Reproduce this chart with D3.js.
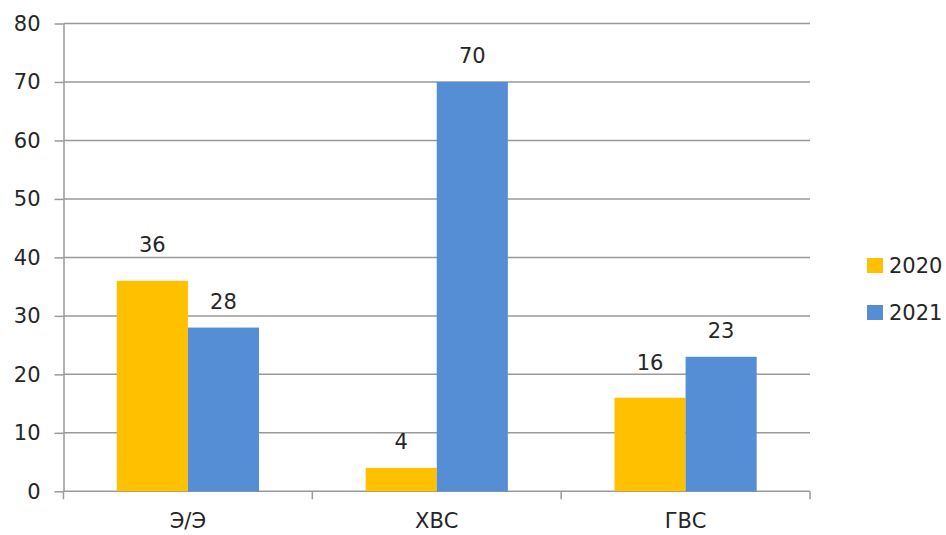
<!DOCTYPE html>
<html lang="ru">
  <head>
    <meta charset="UTF-8">
    <title>Chart</title>
    <script src="https://d3js.org/d3.v7.min.js"></script>
    <style>
      body { margin: 0; background: #fff; }
      text { font-family: "DejaVu Sans", sans-serif; fill: #262626; font-size: 21px; }
      .grid line, .axis line, .axis path { stroke: #999; stroke-width: 1.5; }
    </style>
  </head>
  <body>
    <script>
      const categories = ["Э/Э", "ХВС", "ГВС"]
      const series = ["2020", "2021"]
      const values2020 = [36, 4, 16]
      const values2021 = [28, 70, 23]
      const yTicks = [0, 10, 20, 30, 40, 50, 60, 70, 80]
      const colors = ["#FFC000", "#558ED5"]

      const width = 946, height = 535
      const m = { left: 63.5, right: 136, top: 23.5, bottom: 43.7 }
      // manual label lifts, like the hand placed labels in the original
      const extraLift = { "0-0": 10, "0-2": 9 }

      const svg = d3.select("body").append("svg")
        .attr("width", width)
        .attr("height", height)

      const x = d3.scaleBand()
        .domain(categories)
        .range([m.left, width - m.right])

      const inner = d3.scaleBand()
        .domain(series)
        .range([0, x.bandwidth()])
        .paddingInner(0)
        .paddingOuter(0.75)

      const y = d3.scaleLinear()
        .domain([0, 80])
        .range([height - m.bottom, m.top])

      // gridlines
      svg.append("g").attr("class", "grid")
        .selectAll("line").data(yTicks.slice(1)).join("line")
        .attr("x1", m.left).attr("x2", width - m.right)
        .attr("y1", d => y(d)).attr("y2", d => y(d))

      // y axis
      const yAxis = svg.append("g").attr("class", "axis")
        .attr("transform", `translate(${m.left},0)`)
        .call(d3.axisLeft(y).tickValues(yTicks).tickSize(9).tickSizeOuter(0).tickPadding(14))
      yAxis.selectAll("text").style("font-size", "21px").attr("fill", "#262626")
      yAxis.attr("font-family", null)

      // x axis (ticks at band edges)
      const xAxisG = svg.append("g").attr("class", "axis")
      xAxisG.append("line")
        .attr("x1", m.left).attr("x2", width - m.right)
        .attr("y1", y(0)).attr("y2", y(0))
      const edges = categories.map(c => x(c)).concat([width - m.right])
      xAxisG.selectAll("line.tk").data(edges).join("line")
        .attr("class", "tk")
        .attr("x1", d => d).attr("x2", d => d)
        .attr("y1", y(0)).attr("y2", y(0) + 8)
      xAxisG.selectAll("text").data(categories).join("text")
        .attr("x", d => x(d) + x.bandwidth() / 2)
        .attr("y", height - 7)
        .attr("text-anchor", "middle")
        .text(d => d)

      const rows = categories.map((c, i) => ({ c, i, vals: [values2020[i], values2021[i]] }))

      const groups = svg.selectAll("g.cat").data(rows).join("g")
        .attr("class", "cat")
        .attr("transform", d => `translate(${x(d.c)},0)`)

      groups.selectAll("rect").data(d => d.vals.map((v, s) => ({ v, s }))).join("rect")
        .attr("x", d => inner(series[d.s]))
        .attr("width", inner.bandwidth())
        .attr("y", d => y(d.v))
        .attr("height", d => y(0) - y(d.v))
        .attr("fill", d => colors[d.s])

      groups.selectAll("text.lbl").data(d => d.vals.map((v, s) => ({ v, s, i: d.i }))).join("text")
        .attr("class", "lbl")
        .attr("x", d => inner(series[d.s]) + inner.bandwidth() / 2)
        .attr("y", d => y(d.v) - 18.5 - (extraLift[d.s + "-" + d.i] || 0))
        .attr("text-anchor", "middle")
        .text(d => d.v)

      // legend
      const legend = svg.append("g").attr("transform", "translate(867,258)")
      const li = legend.selectAll("g").data(series).join("g")
        .attr("transform", (d, i) => `translate(0,${i * 47})`)
      li.append("rect").attr("width", 16).attr("height", 15)
        .attr("fill", (d, i) => colors[i])
      li.append("text").attr("x", 22).attr("y", 15)
        .text(d => d)
    </script>
  </body>
</html>
